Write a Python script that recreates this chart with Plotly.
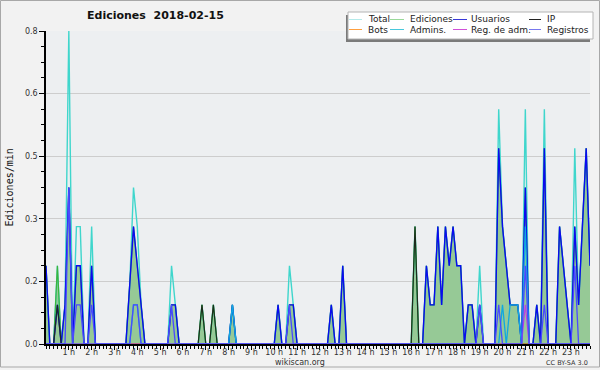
import plotly.graph_objects as go

# 10-minute bins, 144 per day (index 0 = 00:00)
hours = list(range(1, 24))
hour_labels = [f"{h} h" for h in hours]

total = [
    .2, 0, 0, .2, 0, .1,      # 0 h
    .8, 0, .3, .3, 0, 0,      # 1 h
    .3, 0, 0, 0, 0, 0,        # 2 h
    0, 0, 0, 0, .15, .4,      # 3 h
    .3, .1, 0, 0, 0, 0,       # 4 h
    0, 0, 0, .2, .1, 0,       # 5 h
    0, 0, 0, 0, 0, .1,        # 6 h
    0, 0, .1, 0, 0, 0,        # 7 h
    0, .1, 0, 0, 0, 0,        # 8 h
    0, 0, 0, 0, 0, 0,         # 9 h
    0, .1, 0, 0, .2, .1,      # 10 h
    0, 0, 0, 0, 0, 0,         # 11 h
    0, 0, 0, .1, 0, 0,        # 12 h
    .2, 0, 0, 0, 0, 0,        # 13 h
    0, 0, 0, 0, 0, 0,         # 14 h
    0, 0, 0, 0, 0, 0,         # 15 h
    0, .3, 0, 0, .2, .1,      # 16 h
    .1, .3, .1, .3, .2, .3,   # 17 h
    .2, .2, 0, .1, .1, 0,     # 18 h
    .2, 0, 0, 0, 0, .6,       # 19 h
    .3, .2, .1, .1, .1, 0,    # 20 h
    .6, 0, 0, .1, 0, .6,      # 21 h
    0, 0, 0, .3, .2, .1,      # 22 h
    0, .5, .1, .3, .5, .2,    # 23 h
]

ediciones = [
    .2, 0, 0, .2, 0, .1,
    .4, 0, .2, .2, 0, 0,
    .2, 0, 0, 0, 0, 0,
    0, 0, 0, 0, .15, .3,
    .2, .1, 0, 0, 0, 0,
    0, 0, 0, .1, .1, 0,
    0, 0, 0, 0, 0, .1,
    0, 0, .1, 0, 0, 0,
    0, .1, 0, 0, 0, 0,
    0, 0, 0, 0, 0, 0,
    0, .1, 0, 0, .1, .1,
    0, 0, 0, 0, 0, 0,
    0, 0, 0, .1, 0, 0,
    .2, 0, 0, 0, 0, 0,
    0, 0, 0, 0, 0, 0,
    0, 0, 0, 0, 0, 0,
    0, .3, 0, 0, .2, .1,
    .1, .3, .1, .3, .2, .3,
    .2, .2, 0, .1, .1, 0,
    .1, 0, 0, 0, 0, .5,
    .3, .2, .1, .1, .1, 0,
    .4, 0, 0, .1, 0, .5,
    0, 0, 0, .3, .2, .1,
    0, .3, .1, .3, .5, .2,
]

usuarios = [
    .2, 0, 0, .1, 0, .1,
    .4, 0, .2, .2, 0, 0,
    .2, 0, 0, 0, 0, 0,
    0, 0, 0, 0, .15, .3,
    .2, .1, 0, 0, 0, 0,
    0, 0, 0, .1, .1, 0,
    0, 0, 0, 0, 0, 0,
    0, 0, 0, 0, 0, 0,
    0, .1, 0, 0, 0, 0,
    0, 0, 0, 0, 0, 0,
    0, .1, 0, 0, .1, .1,
    0, 0, 0, 0, 0, 0,
    0, 0, 0, .1, 0, 0,
    .2, 0, 0, 0, 0, 0,
    0, 0, 0, 0, 0, 0,
    0, 0, 0, 0, 0, 0,
    0, 0, 0, 0, .2, .1,
    .1, .3, .1, .3, .2, .3,
    .2, .2, 0, .1, .1, 0,
    .1, 0, 0, 0, 0, .5,
    .3, .2, .1, .1, .1, 0,
    .4, 0, 0, .1, 0, .5,
    0, 0, 0, .3, .2, .1,
    0, .3, .1, .3, .5, .2,
]

ip = [0] * 144
for i, v in [(3, .1), (41, .1), (44, .1), (97, .3)]:
    ip[i] = v

bots = [0] * 144

admins = [0] * 144
for i, v in [(23, .1), (24, .1), (49, .1), (120, .1), (122, .1), (123, .1), (124, .1), (126, .3)]:
    admins[i] = v

reg_adm = [0] * 144
reg_adm[126] = .1

registros = [0] * 144
for i, v in [(6, .4), (8, .1), (9, .1), (12, .1), (23, .1), (24, .1), (33, .1), (64, .1),
             (114, .1), (119, .1), (126, .2), (131, .1), (139, .2)]:
    registros[i] = v

x = list(range(144))

fig = go.Figure()
fig.add_trace(go.Scatter(x=x, y=ediciones, mode="lines", fill="tozeroy",
                         fillcolor="#96c996", line=dict(width=0), showlegend=False, hoverinfo="skip"))
series = [
    ("Total", total, "#3fd6cc", 1.4),
    ("Ediciones", ediciones, "#3cb43c", 1.2),
    ("Usuarios", usuarios, "#0a0af0", 1.4),
    ("IP", ip, "#1c2c1c", 1.2),
    ("Bots", bots, "#ff9a30", 1.0),
    ("Admins.", admins, "#10a8e0", 1.3),
    ("Reg. de adm.", reg_adm, "#c040e0", 1.2),
    ("Registros", registros, "#4a4aff", 1.3),
]
for name, ys, col, w in series:
    fig.add_trace(go.Scatter(x=x, y=ys, mode="lines", name=name,
                             line=dict(color=col, width=w), showlegend=False))

L, R, T, B = 46, 590, 31, 344
def px(v):
    return (v - L) / (R - L)
def py(v):
    return (B - v) / (B - T)

shapes = []
annotations = []
# legend box
shapes.append(dict(type="rect", xref="paper", yref="paper", x0=px(346), x1=px(590), y0=py(42), y1=py(15),
                   fillcolor="#7a7a7a", line=dict(width=0), layer="above"))
shapes.append(dict(type="rect", xref="paper", yref="paper", x0=px(348), x1=px(593), y0=py(39), y1=py(12),
                   fillcolor="#ffffff", line=dict(color="#b4b4b4", width=1), layer="above"))
legend_items = [
    ("Total", "#b4eaea", 349, 362, 366, 19.5),
    ("Ediciones", "#9ad99a", 390, 404, 408, 19.5),
    ("Usuarios", "#3838d8", 453, 467, 469, 19.5),
    ("IP", "#222222", 529, 541, 545, 19.5),
    ("Bots", "#ffa040", 349, 362, 366, 29.5),
    ("Admins.", "#48c8dc", 390, 404, 408, 29.5),
    ("Reg. de adm.", "#d050d8", 453, 467, 469, 29.5),
    ("Registros", "#7878ee", 529, 541, 545, 29.5),
]
for name, col, a, b, tx, yy in legend_items:
    shapes.append(dict(type="line", xref="paper", yref="paper", x0=px(a), x1=px(b), y0=py(yy), y1=py(yy),
                       line=dict(color=col, width=1), layer="above"))
    annotations.append(dict(text=name, xref="paper", yref="paper", x=px(tx), y=py(yy),
                            xanchor="left", yanchor="middle", showarrow=False,
                            font=dict(family="DejaVu Sans", size=9, color="#222222")))

# outer frame
shapes.append(dict(type="rect", xref="paper", yref="paper", x0=px(0.5), x1=px(599.5), y0=py(367), y1=py(0.5),
                   line=dict(color="#a8a8a8", width=1), fillcolor="rgba(0,0,0,0)", layer="below"))

annotations.append(dict(text="<b>Ediciones\u00a0 2018-02-15</b>", xref="paper", yref="paper",
                        x=px(85), y=py(16), xanchor="left", yanchor="middle", showarrow=False,
                        font=dict(family="DejaVu Sans", size=11, color="#111111")))
annotations.append(dict(text="Ediciones/min", xref="paper", yref="paper", x=px(9), y=py(187.5),
                        textangle=-90, xanchor="center", yanchor="middle", showarrow=False,
                        font=dict(family="DejaVu Sans Mono", size=10, color="#111111")))
annotations.append(dict(text="wikiscan.org", xref="paper", yref="paper", x=px(300), y=py(362),
                        xanchor="center", yanchor="middle", showarrow=False,
                        font=dict(family="DejaVu Sans", size=8, color="#333333")))
annotations.append(dict(text="CC BY-SA 3.0", xref="paper", yref="paper", x=px(590), y=py(362.5),
                        xanchor="right", yanchor="middle", showarrow=False,
                        font=dict(family="DejaVu Sans", size=6.5, color="#333333")))

fig.update_layout(
    width=600, height=370,
    margin=dict(l=L, r=600 - R, t=T, b=370 - B, autoexpand=False),
    paper_bgcolor="#f2f2f2", plot_bgcolor="#edeff1",
    showlegend=False,
    shapes=shapes, annotations=annotations,
    xaxis=dict(range=[0, 143], tickvals=[6 * h for h in hours], ticktext=hour_labels,
               tickangle=0, automargin=False,
               showgrid=False, zeroline=False, showline=True, linecolor="#000000", linewidth=1.5,
               ticks="outside", ticklen=4, tickcolor="#000000", tickwidth=1,
               ticklabelstandoff=-4,
               tickfont=dict(family="DejaVu Sans", size=8, color="#333333"),
               minor=dict(dtick=1, ticks="outside", ticklen=3, tickcolor="#000000", tickwidth=1),
               fixedrange=True),
    yaxis=dict(range=[0, 0.8], tickvals=[0, 0.16, 0.32, 0.48, 0.64, 0.8],
               ticktext=["0.0", "0.2", "0.3", "0.5", "0.6", "0.8"],
               automargin=False,
               showgrid=True, gridcolor="#cdcdcd", gridwidth=1, zeroline=False,
               showline=True, linecolor="#000000", linewidth=1.5,
               ticks="outside", ticklen=5, tickcolor="#000000",
               tickfont=dict(family="DejaVu Sans", size=8, color="#333333"),
               minor=dict(dtick=0.04, ticks="outside", ticklen=3, tickcolor="#000000", showgrid=False),
               fixedrange=True),
)

fig.write_html("out.html", config={"displayModeBar": False},
               post_script="document.body.style.margin='0px';document.body.style.overflow='hidden';")
